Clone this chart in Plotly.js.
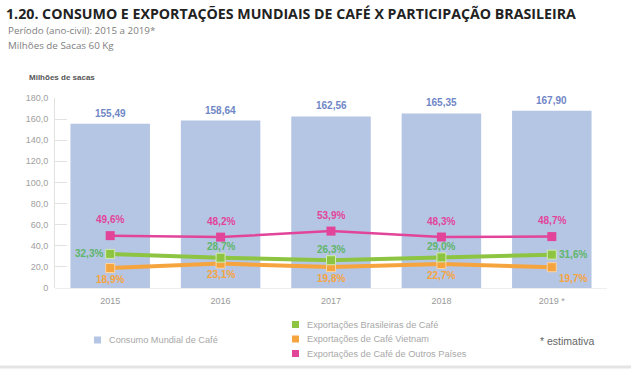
<!DOCTYPE html>
<html>
<head>
<meta charset="utf-8">
<script src="https://cdn.plot.ly/plotly-3.0.1.min.js"></script>
<style>html,body{margin:0;padding:0;background:#fff;}#chart{width:631px;height:377px;}</style>
</head>
<body>
<div id="chart"></div>
<script>
const years = ['2015', '2016', '2017', '2018', '2019 *'];
const consumo = [155.49, 158.64, 162.56, 165.35, 167.90];
const consumoLabels = ['155,49', '158,64', '162,56', '165,35', '167,90'];
const outros = [49.6, 48.2, 53.9, 48.3, 48.7];
const brasil = [32.3, 28.7, 26.3, 29.0, 31.6];
const vietnam = [18.9, 23.1, 19.8, 22.7, 19.7];
const yTickVals = [0, 20, 40, 60, 80, 100, 120, 140, 160, 180];
const yTickText = ['0', '20,0', '40,0', '60,0', '80,0', '100,0', '120,0', '140,0', '160,0', '180,0'];

const cBar = '#b5c5e4', cBarText = '#6f87c6';
const cPink = '#e2449a', cGreen = '#8dc543', cGreenText = '#5fb56a', cOrange = '#f6a43e';
const pct = v => v.toFixed(1).replace('.', ',') + '%';

const traces = [
  {type: 'bar', x: years, y: consumo, width: 0.72, marker: {color: cBar},
   hoverinfo: 'none'},
  {type: 'scatter', mode: 'lines+markers', x: years, y: vietnam,
   line: {color: cOrange, width: 4}, marker: {symbol: 'square', size: 9, color: cOrange, line: {color: '#fbd4a3', width: 1}}},
  {type: 'scatter', mode: 'lines+markers', x: years, y: brasil,
   line: {color: cGreen, width: 4}, marker: {symbol: 'square', size: 9, color: cGreen, line: {color: '#d3eab5', width: 1}}},
  {type: 'scatter', mode: 'lines+markers', x: years, y: outros,
   line: {color: cPink, width: 2.5}, marker: {symbol: 'square', size: 9, color: cPink}}
];

const labFont = c => ({family: 'Liberation Sans, Arial', size: 10, color: c, weight: 'bold'});
const ann = [];
years.forEach((yr, i) => {
  ann.push({x: i, y: consumo[i], xref: 'x', yref: 'y', text: consumoLabels[i], showarrow: false, yanchor: 'bottom', yshift: 3, font: labFont(cBarText)});
  ann.push({x: i, y: outros[i], xref: 'x', yref: 'y', text: pct(outros[i]), showarrow: false, yshift: 16, font: labFont(cPink)});
  let g = {x: i, y: brasil[i], xref: 'x', yref: 'y', text: pct(brasil[i]), showarrow: false, font: labFont(cGreenText)};
  if (i === 0) { g.xanchor = 'right'; g.xshift = -5; }
  else if (i === years.length - 1) { g.xanchor = 'left'; g.xshift = 5; }
  else { g.yshift = 11; }
  ann.push(g);
  let o = {x: i, y: vietnam[i], xref: 'x', yref: 'y', text: pct(vietnam[i]), showarrow: false, yshift: -11, font: labFont(cOrange)};
  if (i === years.length - 1) { o.xanchor = 'left'; o.xshift = 5; }
  ann.push(o);
});

const P = py => (288 - py) / 190;
const X = px => (px - 55) / 552;
const sub = {family: 'Open Sans', size: 9.8, color: '#808080'};
ann.push({xref: 'paper', yref: 'paper', x: X(6), y: P(30), xanchor: 'left', yanchor: 'middle', showarrow: false, text: 'Período (ano-civil): 2015 a 2019*', font: sub});
ann.push({xref: 'paper', yref: 'paper', x: X(6), y: P(45), xanchor: 'left', yanchor: 'middle', showarrow: false, text: 'Milhões de Sacas 60 Kg', font: sub});
ann.push({xref: 'paper', yref: 'paper', x: X(27), y: P(77), xanchor: 'left', yanchor: 'middle', showarrow: false, text: '<b>Milhões de sacas</b>', font: {family: 'Liberation Sans, Arial', size: 8, color: '#555'}});

const legFont = {family: 'Liberation Sans, Arial', size: 9.2, color: '#a8a8a8'};
const legItems = [
  {px: 94, py: 340, color: cBar, text: 'Consumo Mundial de Café'},
  {px: 292, py: 324.5, color: cGreen, text: 'Exportações Brasileiras de Café'},
  {px: 292, py: 339, color: cOrange, text: 'Exportações de Café Vietnam'},
  {px: 292, py: 353.5, color: cPink, text: 'Exportações de Café de Outros Países'}
];
const shapes = [];
legItems.forEach(it => {
  shapes.push({type: 'rect', xref: 'paper', yref: 'paper', x0: X(it.px), x1: X(it.px + 7), y0: P(it.py + 3.5), y1: P(it.py - 3.5), fillcolor: it.color, line: {width: 0}});
  ann.push({xref: 'paper', yref: 'paper', x: X(it.px + 13), y: P(it.py), xanchor: 'left', yanchor: 'middle', showarrow: false, text: it.text, font: legFont});
});
ann.push({xref: 'paper', yref: 'paper', x: X(538), y: P(341), xanchor: 'left', yanchor: 'middle', showarrow: false, text: '* estimativa', font: {family: 'Liberation Sans, Arial', size: 10.5, color: '#666'}});
shapes.push({type: 'line', xref: 'paper', yref: 'paper', x0: X(0), x1: X(631), y0: P(367), y1: P(367), line: {color: '#e4e4e4', width: 3}});

const layout = {
  width: 631, height: 377,
  margin: {l: 55, r: 24, t: 98, b: 89},
  paper_bgcolor: '#fff', plot_bgcolor: '#fff',
  showlegend: false,
  title: {text: '<b>1.20. CONSUMO E EXPORTAÇÕES MUNDIAIS DE CAFÉ X PARTICIPAÇÃO BRASILEIRA</b>',
          x: 6 / 631, xref: 'container', xanchor: 'left', y: 1 - 14 / 377, yref: 'container', yanchor: 'middle',
          font: {family: 'Open Sans', size: 14.2, color: '#222'}},
  xaxis: {type: 'category', showline: false, ticks: '', showgrid: false, zeroline: false, ticklabelstandoff: 6,
          tickfont: {family: 'Liberation Sans, Arial', size: 9, color: '#999'}},
  yaxis: {range: [0, 180], tickvals: yTickVals, ticktext: yTickText, showgrid: false,
          showline: true, linecolor: '#e2e2e2', linewidth: 1, ticks: 'inside', ticklen: 12, tickcolor: '#e2e2e2',
          zeroline: true, zerolinecolor: '#eeeeee', ticklabelstandoff: 4,
          tickfont: {family: 'Liberation Sans, Arial', size: 9, color: '#a0a0a0'}},
  annotations: ann,
  shapes: shapes
};

Plotly.newPlot('chart', traces, layout, {displayModeBar: false, staticPlot: true});
</script>
</body>
</html>
